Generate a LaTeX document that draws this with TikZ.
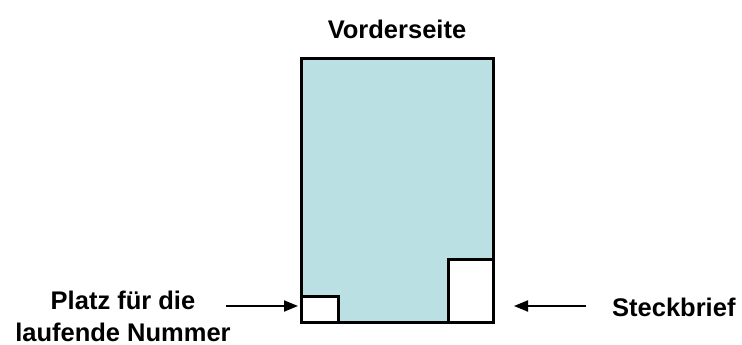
\documentclass[tikz,border=0pt]{standalone}
\usepackage{fontspec}
\setmainfont{Liberation Sans}
\usetikzlibrary{arrows.meta}
\begin{document}
\begin{tikzpicture}[x=1pt,y=-1pt,
  lbl/.style={font=\fontsize{25.5}{32}\selectfont\bfseries, inner sep=0pt, align=center},
  box/.style={draw=black, line width=3pt},
  arr/.style={line width=2pt, -{Triangle[length=14pt,width=11pt]}}]
\useasboundingbox (0,0) rectangle (742,345);
\draw[box, fill={rgb,255:red,187;green,224;blue,227}] (301,59) rectangle (493,322);
\draw[box, fill=white] (301,296) rectangle (338,322);
\draw[box, fill=white] (448,259) rectangle (493,322);
\node[lbl] (title) at (397,29) {Vorderseite};
\node[lbl] (left) at (123,316) {Platz für die\\laufende Nummer};
\node[lbl, anchor=west] (right) at (612,307) {Steckbrief};
\coordinate (la) at (226,306);
\coordinate (lb) at (298,306);
\coordinate (ra) at (586,306);
\coordinate (rb) at (514,306);
\draw[arr] (la) -- (lb);
\draw[arr] (ra) -- (rb);
\end{tikzpicture}
\end{document}
